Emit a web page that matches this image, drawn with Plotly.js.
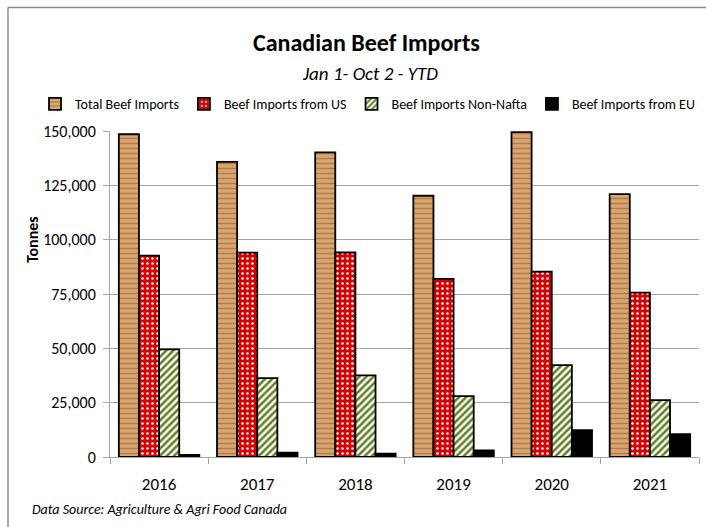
<!DOCTYPE html>
<html>
<head>
<meta charset="utf-8">
<script src="https://cdn.plot.ly/plotly-3.0.1.min.js"></script>
<style>html,body{margin:0;padding:0;background:#fff;}#chart{width:706px;height:527px;}</style>
</head>
<body>
<div id="chart"></div>
<script>
var years = ["2016", "2017", "2018", "2019", "2020", "2021"];
var totalImports = [148500, 135800, 140200, 120200, 149500, 121000];
var usImports = [92700, 94000, 94100, 82000, 85300, 75600];
var nonNaftaImports = [49500, 36300, 37600, 28000, 42300, 26200];
var euImports = [1000, 2000, 1500, 3000, 12400, 10500];
var yTickVals = [0, 25000, 50000, 75000, 100000, 125000, 150000];
var yTickText = ["0", "25,000", "50,000", "75,000", "100,000", "125,000", "150,000"];

var FONT = "Carlito, 'Liberation Sans Narrow', 'Arial Narrow', 'Liberation Sans', sans-serif";
var edge = {color: "#000000", width: 1.8};

var traces = [
  {type: "bar", name: "Total Beef Imports", x: years, y: totalImports,
   marker: {color: "#D49E68", line: edge,
     pattern: {shape: "-", fgcolor: "#B27C4A", bgcolor: "#D9A571", size: 5, solidity: 0.3}}},
  {type: "bar", name: "Beef Imports from US", x: years, y: usImports,
   marker: {color: "#D80000", line: edge,
     pattern: {shape: ".", fgcolor: "#FFFFFF", bgcolor: "#D80000", size: 5, solidity: 0.2}}},
  {type: "bar", name: "Beef Imports Non-Nafta", x: years, y: nonNaftaImports,
   marker: {color: "#FFFFFF", line: edge,
     pattern: {shape: "/", fgcolor: "#5F8020", bgcolor: "#FFFFFF", size: 5, solidity: 0.5}}},
  {type: "bar", name: "Beef Imports from EU", x: years, y: euImports,
   marker: {color: "#000000", line: edge}}
];

var L = 110, R = 7, T = 130.7, B = 527 - 457.3;
var PW = 706 - L - R, PH = 527 - T - B;
function px(x) { return (x - L) / PW; }
function py(y) { return 1 + (T - y) / PH; }

var layout = {
  width: 706, height: 527,
  margin: {l: L, r: R, t: T, b: B},
  paper_bgcolor: "#FFFFFF", plot_bgcolor: "#FFFFFF",
  font: {family: FONT, color: "#000000", size: 14},
  barmode: "group", bargap: 0.18, bargroupgap: 0,
  showlegend: true,
  legend: {orientation: "h", x: px(35), xanchor: "left", y: py(104), yanchor: "middle",
    font: {family: FONT, size: 14, color: "#000000"}, bgcolor: "rgba(0,0,0,0)",
    itemwidth: 30, traceorder: "normal"},
  xaxis: {type: "category", showgrid: false, showline: true, linecolor: "#A6A6A6", linewidth: 1,
    ticks: "outside", tickson: "boundaries", ticklen: 6, tickcolor: "#A6A6A6",
    tickfont: {family: FONT, size: 17, color: "#000000"}, ticklabelstandoff: 12,
    fixedrange: true},
  yaxis: {range: [0, 150000], tickvals: yTickVals, ticktext: yTickText,
    showgrid: true, gridcolor: "#A6A6A6", gridwidth: 1, zeroline: false,
    showline: true, linecolor: "#A6A6A6", linewidth: 1,
    ticks: "outside", ticklen: 6, tickcolor: "#A6A6A6",
    tickfont: {family: FONT, size: 16, color: "#000000"}, ticklabelstandoff: 4,
    fixedrange: true},
  annotations: [
    {text: "<b>Canadian Beef Imports</b>", xref: "paper", yref: "paper", x: px(366), y: py(42),
     xanchor: "center", yanchor: "middle", showarrow: false, font: {family: FONT, size: 24, color: "#000000"}},
    {text: "<i>Jan 1- Oct 2 - YTD</i>", xref: "paper", yref: "paper", x: px(370), y: py(73),
     xanchor: "center", yanchor: "middle", showarrow: false, font: {family: FONT, size: 19, color: "#000000"}},
    {text: "<b>Tonnes</b>", xref: "paper", yref: "paper", x: px(32), y: py(240), textangle: -90,
     xanchor: "center", yanchor: "middle", showarrow: false, font: {family: FONT, size: 16, color: "#000000"}},
    {text: "<i>Data Source: Agriculture &amp; Agri Food Canada</i>", xref: "paper", yref: "paper", x: px(30), y: py(510),
     xanchor: "left", yanchor: "middle", showarrow: false, font: {family: FONT, size: 14, color: "#000000"}}
  ],
  shapes: [
    {type: "line", xref: "paper", yref: "paper", x0: px(8), x1: px(720), y0: py(7), y1: py(7),
     line: {color: "#8C8C8C", width: 1.5}},
    {type: "line", xref: "paper", yref: "paper", x0: px(8), x1: px(8), y0: py(7), y1: py(540),
     line: {color: "#8C8C8C", width: 1.5}}
  ]
};

Plotly.newPlot("chart", traces, layout, {displayModeBar: false, staticPlot: true});
</script>
</body>
</html>
